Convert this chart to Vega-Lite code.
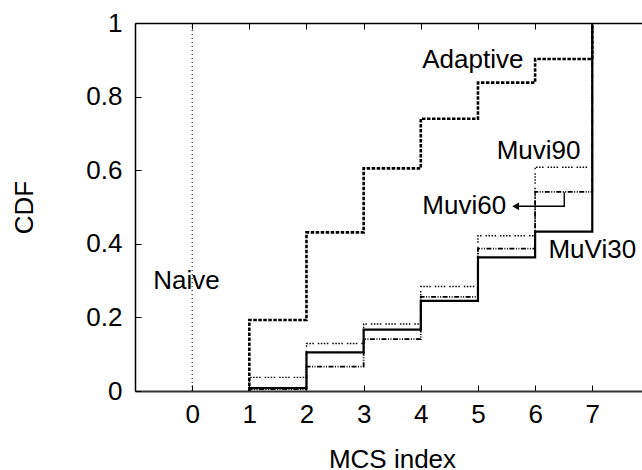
{
  "$schema": "https://vega.github.io/schema/vega-lite/v6.json",
  "width": 507,
  "height": 368,
  "autosize": {"type": "none"},
  "padding": {"left": 135, "top": 23, "right": 0, "bottom": 79},
  "background": "white",
  "config": {
    "view": {"stroke": null},
    "font": "Liberation Sans",
    "axis": {"grid": false, "labelFont": "Liberation Sans", "titleFont": "Liberation Sans", "labelColor": "black", "titleColor": "black", "titleFontWeight": "normal", "tickColor": "black", "labelFontSize": 26, "titleFontSize": 26}
  },
  "datasets": {
    "steps": [
      {"series": "Adaptive", "i": 0, "x": 1, "y": 0},
      {"series": "Adaptive", "i": 1, "x": 1, "y": 0.193},
      {"series": "Adaptive", "i": 2, "x": 2, "y": 0.431},
      {"series": "Adaptive", "i": 3, "x": 3, "y": 0.605},
      {"series": "Adaptive", "i": 4, "x": 4, "y": 0.740},
      {"series": "Adaptive", "i": 5, "x": 5, "y": 0.838},
      {"series": "Adaptive", "i": 6, "x": 6, "y": 0.902},
      {"series": "Adaptive", "i": 7, "x": 7, "y": 1},
      {"series": "MuVi30", "i": 0, "x": 1, "y": 0},
      {"series": "MuVi30", "i": 1, "x": 1, "y": 0.008},
      {"series": "MuVi30", "i": 2, "x": 2, "y": 0.105},
      {"series": "MuVi30", "i": 3, "x": 3, "y": 0.167},
      {"series": "MuVi30", "i": 4, "x": 4, "y": 0.245},
      {"series": "MuVi30", "i": 5, "x": 5, "y": 0.363},
      {"series": "MuVi30", "i": 6, "x": 6, "y": 0.433},
      {"series": "MuVi30", "i": 7, "x": 7, "y": 1},
      {"series": "Muvi60", "i": 0, "x": 1, "y": 0},
      {"series": "Muvi60", "i": 1, "x": 1, "y": 0.005},
      {"series": "Muvi60", "i": 2, "x": 2, "y": 0.066},
      {"series": "Muvi60", "i": 3, "x": 3, "y": 0.141},
      {"series": "Muvi60", "i": 4, "x": 4, "y": 0.256},
      {"series": "Muvi60", "i": 5, "x": 5, "y": 0.387},
      {"series": "Muvi60", "i": 6, "x": 6, "y": 0.541},
      {"series": "Muvi60", "i": 7, "x": 7, "y": 1},
      {"series": "Muvi90", "i": 0, "x": 1, "y": 0},
      {"series": "Muvi90", "i": 1, "x": 1, "y": 0.037},
      {"series": "Muvi90", "i": 2, "x": 2, "y": 0.129},
      {"series": "Muvi90", "i": 3, "x": 3, "y": 0.182},
      {"series": "Muvi90", "i": 4, "x": 4, "y": 0.284},
      {"series": "Muvi90", "i": 5, "x": 5, "y": 0.422},
      {"series": "Muvi90", "i": 6, "x": 6, "y": 0.608},
      {"series": "Muvi90", "i": 7, "x": 7, "y": 1}
    ],
    "labels": [
      {"label": "Adaptive", "x": 4.91, "y": 0.899},
      {"label": "Muvi90", "x": 6.06, "y": 0.652},
      {"label": "Muvi60", "x": 4.76, "y": 0.502},
      {"label": "MuVi30", "x": 7.0, "y": 0.384},
      {"label": "Naive", "x": -0.1, "y": 0.299}
    ],
    "arrow": [
      {"i": 0, "x": 6.51, "y": 0.54},
      {"i": 1, "x": 6.51, "y": 0.502},
      {"i": 2, "x": 5.66, "y": 0.502}
    ],
    "arrowhead": [{"x": 5.66, "y": 0.502}],
    "naive": [{"x": 0, "y": 0, "y2": 1}]
  },
  "layer": [
    {
      "data": {"name": "naive"},
      "mark": {"type": "rule", "color": "black", "strokeWidth": 1, "strokeDash": [1, 3]},
      "encoding": {
        "x": {"field": "x", "type": "quantitative", "scale": {"domain": [-1, 7.87], "nice": false, "zero": false},
          "axis": {"orient": "top", "values": [0, 1, 2, 3, 4, 5, 6, 7], "labels": false, "title": null, "tickSize": -6, "domainColor": "black", "domainWidth": 1.5}},
        "y": {"field": "y", "type": "quantitative", "scale": {"domain": [0, 1], "nice": false},
          "axis": {"orient": "left", "values": [0, 0.2, 0.4, 0.6, 0.8, 1], "format": "~g", "tickSize": -6, "labelPadding": 19, "labelBaseline": "middle", "domainColor": "black", "domainWidth": 1.5, "title": "CDF", "titleX": -111, "titleY": 184, "titleAngle": -90, "titleBaseline": "middle", "titleAlign": "center"}},
        "y2": {"field": "y2"}
      }
    },
    {
      "data": {"name": "steps"},
      "mark": {"type": "line", "interpolate": "step-after", "color": "black"},
      "encoding": {
        "x": {"field": "x", "type": "quantitative", "scale": {"domain": [-1, 7.87], "nice": false, "zero": false},
          "axis": {"orient": "bottom", "values": [0, 1, 2, 3, 4, 5, 6, 7], "tickSize": -6, "labelPadding": 16, "domainColor": "#333333", "domainWidth": 2.2, "title": "MCS index", "titleX": 257, "titleY": 76, "titleBaseline": "alphabetic", "titleAlign": "center"}},
        "y": {"field": "y", "type": "quantitative", "scale": {"domain": [0, 1], "nice": false}},
        "order": {"field": "i", "type": "quantitative"},
        "strokeDash": {"field": "series", "type": "nominal", "legend": null,
          "scale": {"domain": ["Adaptive", "MuVi30", "Muvi60", "Muvi90"], "range": [[3.5, 1.5], [1, 0], [5, 1.5, 1, 1.5, 1, 1.5], [1.5, 1.5, 1.5, 1.5, 1.5, 1.5, 1.5, 4]]}},
        "strokeWidth": {"field": "series", "type": "nominal", "legend": null,
          "scale": {"domain": ["Adaptive", "MuVi30", "Muvi60", "Muvi90"], "range": [2.6, 1.4, 1.2, 1.2]}}
      }
    },
    {
      "data": {"name": "arrow"},
      "mark": {"type": "line", "color": "black", "strokeWidth": 1.4},
      "encoding": {
        "x": {"field": "x", "type": "quantitative", "axis": null},
        "y": {"field": "y", "type": "quantitative"},
        "order": {"field": "i", "type": "quantitative"}
      }
    },
    {
      "data": {"name": "arrowhead"},
      "mark": {"type": "point", "shape": "triangle-left", "filled": true, "color": "black", "opacity": 1, "size": 60},
      "encoding": {
        "x": {"field": "x", "type": "quantitative", "axis": null},
        "y": {"field": "y", "type": "quantitative"}
      }
    },
    {
      "data": {"name": "labels"},
      "mark": {"type": "text", "font": "Liberation Sans", "fontSize": 26, "color": "black", "align": "center", "baseline": "middle"},
      "encoding": {
        "x": {"field": "x", "type": "quantitative", "axis": null},
        "y": {"field": "y", "type": "quantitative"},
        "text": {"field": "label"}
      }
    }
  ],
  "resolve": {"axis": {"x": "independent"}}
}
